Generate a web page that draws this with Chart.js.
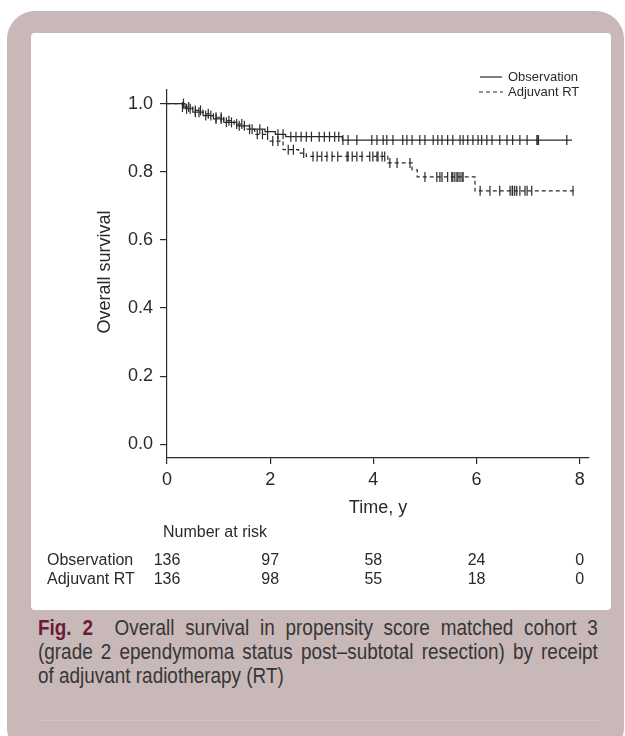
<!DOCTYPE html>
<html>
<head>
<meta charset="utf-8">
<script src="https://cdn.jsdelivr.net/npm/chart.js@4"></script>
<style>
  html, body { margin: 0; padding: 0; background: #ffffff; }
  body { width: 625px; height: 736px; position: relative; overflow: hidden; }
  .frame { position: absolute; left: 7px; top: 11px; width: 617px; height: 745px; background: #c9b8b8; border-radius: 28px; }
  .panel { position: absolute; left: 31px; top: 33px; width: 580px; height: 577px; background: #ffffff; border-radius: 4px; }
  .rule { position: absolute; left: 38px; top: 720px; width: 562px; height: 1px; background: #d3c5c5; }
  #survChart { position: absolute; left: 0; top: 0; }
  .caption { position: absolute; left: 38px; top: 616px; font-family: "Liberation Sans", Arial, sans-serif; font-size: 22px; color: #363636; line-height: 24px; }
  .caption div { width: 651px; transform: scaleX(0.86); transform-origin: 0 0; text-align: justify; text-align-last: justify; white-space: nowrap; }
  .caption div.last { text-align-last: left; }
  .caption b { color: #6b1b3a; }
</style>
</head>
<body>
<div class="frame"></div>
<div class="panel"></div>
<div class="rule"></div>
<canvas id="survChart" width="625" height="610"></canvas>
<div class="caption">
  <div><b>Fig. 2</b>&nbsp; Overall survival in propensity score matched cohort 3</div>
  <div>(grade 2 ependymoma status post–subtotal resection) by receipt</div>
  <div class="last">of adjuvant radiotherapy (RT)</div>
</div>

<script>
// ====== DATOS ======
const xTicks = [0, 2, 4, 6, 8];
const yTicks = [0, 0.2, 0.4, 0.6, 0.8, 1.0];

// Observation (solid)
const obsTimes = [0, 0.35, 0.5, 0.7, 0.9, 1.1, 1.35, 1.6, 1.9, 2.1, 2.3, 3.4, 7.85];
const obsSurv = [1.0, 0.985, 0.975, 0.965, 0.955, 0.945, 0.935, 0.925, 0.918, 0.91, 0.903, 0.893, 0.893];
const obsCensor = [0.32, 0.38, 0.45, 0.55, 0.62, 0.75, 0.85, 0.95, 1.05, 1.15, 1.25, 1.4, 1.5, 1.65, 1.8, 1.95,
    2.15, 2.25, 2.4, 2.5, 2.6, 2.7, 2.8, 2.95, 3.05, 3.15, 3.25, 3.33,
    3.41, 3.51, 3.68, 3.97, 4.07, 4.19, 4.26, 4.38, 4.57, 4.65, 4.75, 4.9, 5.0, 5.16, 5.25, 5.33, 5.44,
    5.54, 5.68, 5.74, 5.83, 5.93, 6.03, 6.1, 6.2, 6.3, 6.45, 6.59, 6.7, 6.84, 6.98, 7.17, 7.19, 7.2, 7.75];

// Adjuvant RT (dashed)
const adjTimes = [0, 0.3, 0.5, 0.7, 0.9, 1.1, 1.3, 1.5, 1.7, 1.95, 2.25, 2.55, 2.7, 4.28, 4.75, 4.85, 5.97, 7.88];
const adjSurv = [1.0, 0.99, 0.98, 0.97, 0.96, 0.95, 0.94, 0.925, 0.91, 0.89, 0.865, 0.855, 0.845, 0.826, 0.806, 0.785, 0.744, 0.744];
const adjCensor = [0.3, 0.42, 0.55, 0.65, 0.8, 0.95, 1.05, 1.2, 1.35, 1.45, 1.6, 1.75, 1.85, 2.05, 2.15, 2.35, 2.45, 2.65,
    2.83, 2.91, 3.0, 3.1, 3.2, 3.31, 3.49, 3.51, 3.59, 3.68, 3.78, 3.93, 3.99, 4.07, 4.09, 4.17, 4.22, 4.32, 4.46, 4.71,
    5.0, 5.23, 5.29, 5.33, 5.44, 5.52, 5.54, 5.58, 5.62, 5.64, 5.68, 5.72, 5.74,
    6.07, 6.26, 6.45, 6.65, 6.69, 6.7, 6.74, 6.78, 6.84, 6.94, 6.98, 7.07, 7.87];

// Number at risk
const riskTimes = [0, 2, 4, 6, 8];
const riskGroups = ["Observation", "Adjuvant RT"];
const riskObs = [136, 97, 58, 24, 0];
const riskAdj = [136, 98, 55, 18, 0];

// ====== HELPERS ======
const INK = "#2a2a2a";
const FONT = "'Liberation Sans', Arial, sans-serif";

function stepPoints(times, surv) {
    return times.map((t, i) => ({ x: t, y: surv[i] }));
}
function survAt(times, surv, t) {
    let v = surv[0];
    for (let i = 0; i < times.length; i++) {
        if (times[i] <= t) v = surv[i];
    }
    return v;
}
function censorPoints(times, surv, cens) {
    return cens.map(t => ({ x: t, y: survAt(times, surv, t) }));
}

// ====== TEXTOS EXTRA (títulos, leyenda, tabla de riesgo) ======
const extrasPlugin = {
    id: "extras",
    afterDraw(chart) {
        const ctx = chart.ctx;
        const xs = chart.scales.x;
        ctx.save();
        ctx.fillStyle = INK;
        ctx.strokeStyle = INK;

        // eje Y
        ctx.font = "18px " + FONT;
        ctx.textAlign = "center";
        ctx.textBaseline = "middle";
        ctx.save();
        ctx.translate(105, 272);
        ctx.rotate(-Math.PI / 2);
        ctx.fillText("Overall survival", 0, 0);
        ctx.restore();

        // eje X
        ctx.fillText("Time, y", (chart.chartArea.left + chart.chartArea.right) / 2, 508);

        // tabla de riesgo
        ctx.font = "16px " + FONT;
        ctx.textAlign = "left";
        ctx.fillText("Number at risk", 163, 533);
        const rows = [riskObs, riskAdj];
        const rowY = [561, 580];
        rows.forEach((vals, r) => {
            ctx.textAlign = "left";
            ctx.fillText(riskGroups[r], 47, rowY[r]);
            ctx.textAlign = "center";
            vals.forEach((v, i) => {
                ctx.fillText(String(v), xs.getPixelForValue(riskTimes[i]), rowY[r]);
            });
        });

        // leyenda
        ctx.font = "13px " + FONT;
        ctx.textAlign = "left";
        ctx.lineWidth = 1.2;
        ctx.beginPath();
        ctx.moveTo(480, 77);
        ctx.lineTo(502, 77);
        ctx.stroke();
        ctx.setLineDash([4, 3]);
        ctx.beginPath();
        ctx.moveTo(479, 92);
        ctx.lineTo(503, 92);
        ctx.stroke();
        ctx.setLineDash([]);
        ctx.fillText("Observation", 508, 77);
        ctx.fillText("Adjuvant RT", 508, 92);

        ctx.restore();
    }
};

// ====== GRÁFICO ======
document.addEventListener("DOMContentLoaded", () => {
    new Chart(document.getElementById("survChart"), {
        type: "line",
        data: {
            datasets: [
                {
                    data: stepPoints(obsTimes, obsSurv),
                    borderColor: INK,
                    borderWidth: 1.2,
                    stepped: "before",
                    pointRadius: 0,
                    fill: false
                },
                {
                    data: censorPoints(obsTimes, obsSurv, obsCensor),
                    showLine: false,
                    pointStyle: "line",
                    rotation: 90,
                    pointRadius: 5,
                    borderColor: INK,
                    borderWidth: 1.2
                },
                {
                    data: stepPoints(adjTimes, adjSurv),
                    borderColor: INK,
                    borderWidth: 1.2,
                    borderDash: [4, 3],
                    stepped: "before",
                    pointRadius: 0,
                    fill: false
                },
                {
                    data: censorPoints(adjTimes, adjSurv, adjCensor),
                    showLine: false,
                    pointStyle: "line",
                    rotation: 90,
                    pointRadius: 5,
                    borderColor: INK,
                    borderWidth: 1.2
                }
            ]
        },
        options: {
            responsive: false,
            animation: false,
            layout: { padding: { left: 80, right: 36, top: 90, bottom: 0 } },
            plugins: {
                legend: { display: false },
                tooltip: { enabled: false }
            },
            scales: {
                x: {
                    type: "linear",
                    min: 0,
                    max: 8.18,
                    afterBuildTicks: s => { s.ticks = xTicks.map(v => ({ value: v })); },
                    afterFit: s => { s.height = 152; },
                    grid: { display: true, drawOnChartArea: false, drawTicks: true, tickLength: 6, color: INK, lineWidth: 1.2 },
                    border: { display: true, color: INK, width: 1.2 },
                    ticks: { color: INK, font: { family: FONT, size: 18 }, padding: 5, maxRotation: 0 }
                },
                y: {
                    min: -0.04,
                    max: 1.04,
                    afterBuildTicks: s => { s.ticks = yTicks.map(v => ({ value: v })); },
                    afterFit: s => { s.width = 87; },
                    grid: { display: true, drawOnChartArea: false, drawTicks: true, tickLength: 7, color: INK, lineWidth: 1.2 },
                    border: { display: true, color: INK, width: 1.2 },
                    ticks: { color: INK, font: { family: FONT, size: 18 }, padding: 7, callback: v => v.toFixed(1) }
                }
            }
        },
        plugins: [extrasPlugin]
    });
});
</script>
</body>
</html>
